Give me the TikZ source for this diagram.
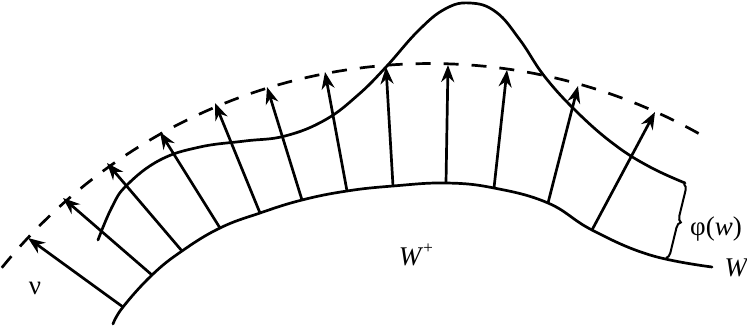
\documentclass[tikz,border=0pt]{standalone}
\usepackage{fontspec}
\setmainfont{Liberation Serif}
\usetikzlibrary{arrows.meta,decorations.pathreplacing}
\tikzset{
  curve/.style={line width=2.7pt, line cap=round},
  vec/.style={line width=2.7pt, -{Stealth[length=17pt,width=13pt,inset=5.5pt]}},
  dashcurve/.style={line width=2.7pt, dash pattern=on 15pt off 13pt},
  lbl/.style={font=\fontsize{27}{31}\selectfont, inner sep=0pt},
  bracestyle/.style={line width=2pt, decorate, decoration={brace, amplitude=6pt}}
}
\begin{document}
\begin{tikzpicture}[x=1pt,y=-1pt]
\useasboundingbox (0,0) rectangle (747,332);
% base points
\coordinate (b1) at (123,307);
\coordinate (b2) at (152,275);
\coordinate (b3) at (182,251);
\coordinate (b4) at (220,228);
\coordinate (b5) at (260,213);
\coordinate (b6) at (302,200);
\coordinate (b7) at (347,191);
\coordinate (b8) at (393,186);
\coordinate (b9) at (446,183);
\coordinate (b10) at (494,188);
\coordinate (b11) at (548,203);
\coordinate (b12) at (592,230);
% tip points
\coordinate (t1) at (28,238);
\coordinate (t2) at (63,198);
\coordinate (t3) at (107,163);
\coordinate (t4) at (160,132);
\coordinate (t5) at (215,103);
\coordinate (t6) at (267,87);
\coordinate (t7) at (325,72);
\coordinate (t8) at (386,67);
\coordinate (t9) at (448,65);
\coordinate (t10) at (507,70);
\coordinate (t11) at (578,86);
\coordinate (t12) at (655,112);
% base curve W
\draw[curve] plot[smooth, tension=0.7] coordinates {
 (113,324) (b1) (b2) (b3) (b4) (b5) (b6) (b7) (b8) (b9) (b10) (b11) (b12) (650,255) (712,267)};
% dashed curve
\draw[dashcurve] plot[domain=219:300.5, samples=80] ({430+551*cos(\x)},{614.5+551*sin(\x)});
% upper curve (graph of phi)
\draw[curve] plot[smooth, tension=0.7] coordinates {
 (98,240) (112,207) (127,185) (160,160) (200,147) (245,141) (285,136)
 (325,120) (358,95) (386,67) (418,31) (445,9) (470,3) (496,12) (520,40) (545,77)
 (578,113) (615,145) (650,167) (685,183)};
% vectors
\foreach \i in {1,...,12} { \draw[vec] (b\i) -- (t\i); }
% brace
\coordinate (brtop) at (684,184);
\coordinate (brbot) at (666,258);
\draw[bracestyle] (brtop) -- (brbot);
% labels
\node[lbl] (nu) at (35,288) {ν};
\node[lbl] (Wplus) at (416,255) {\textit{W}\raisebox{0.42em}{\fontsize{17}{19}\selectfont +}};
\node[lbl] (phi) at (716,229) {φ(\textit{w})};
\node[lbl] (W) at (737,268) {\textit{W}};
\end{tikzpicture}
\end{document}
